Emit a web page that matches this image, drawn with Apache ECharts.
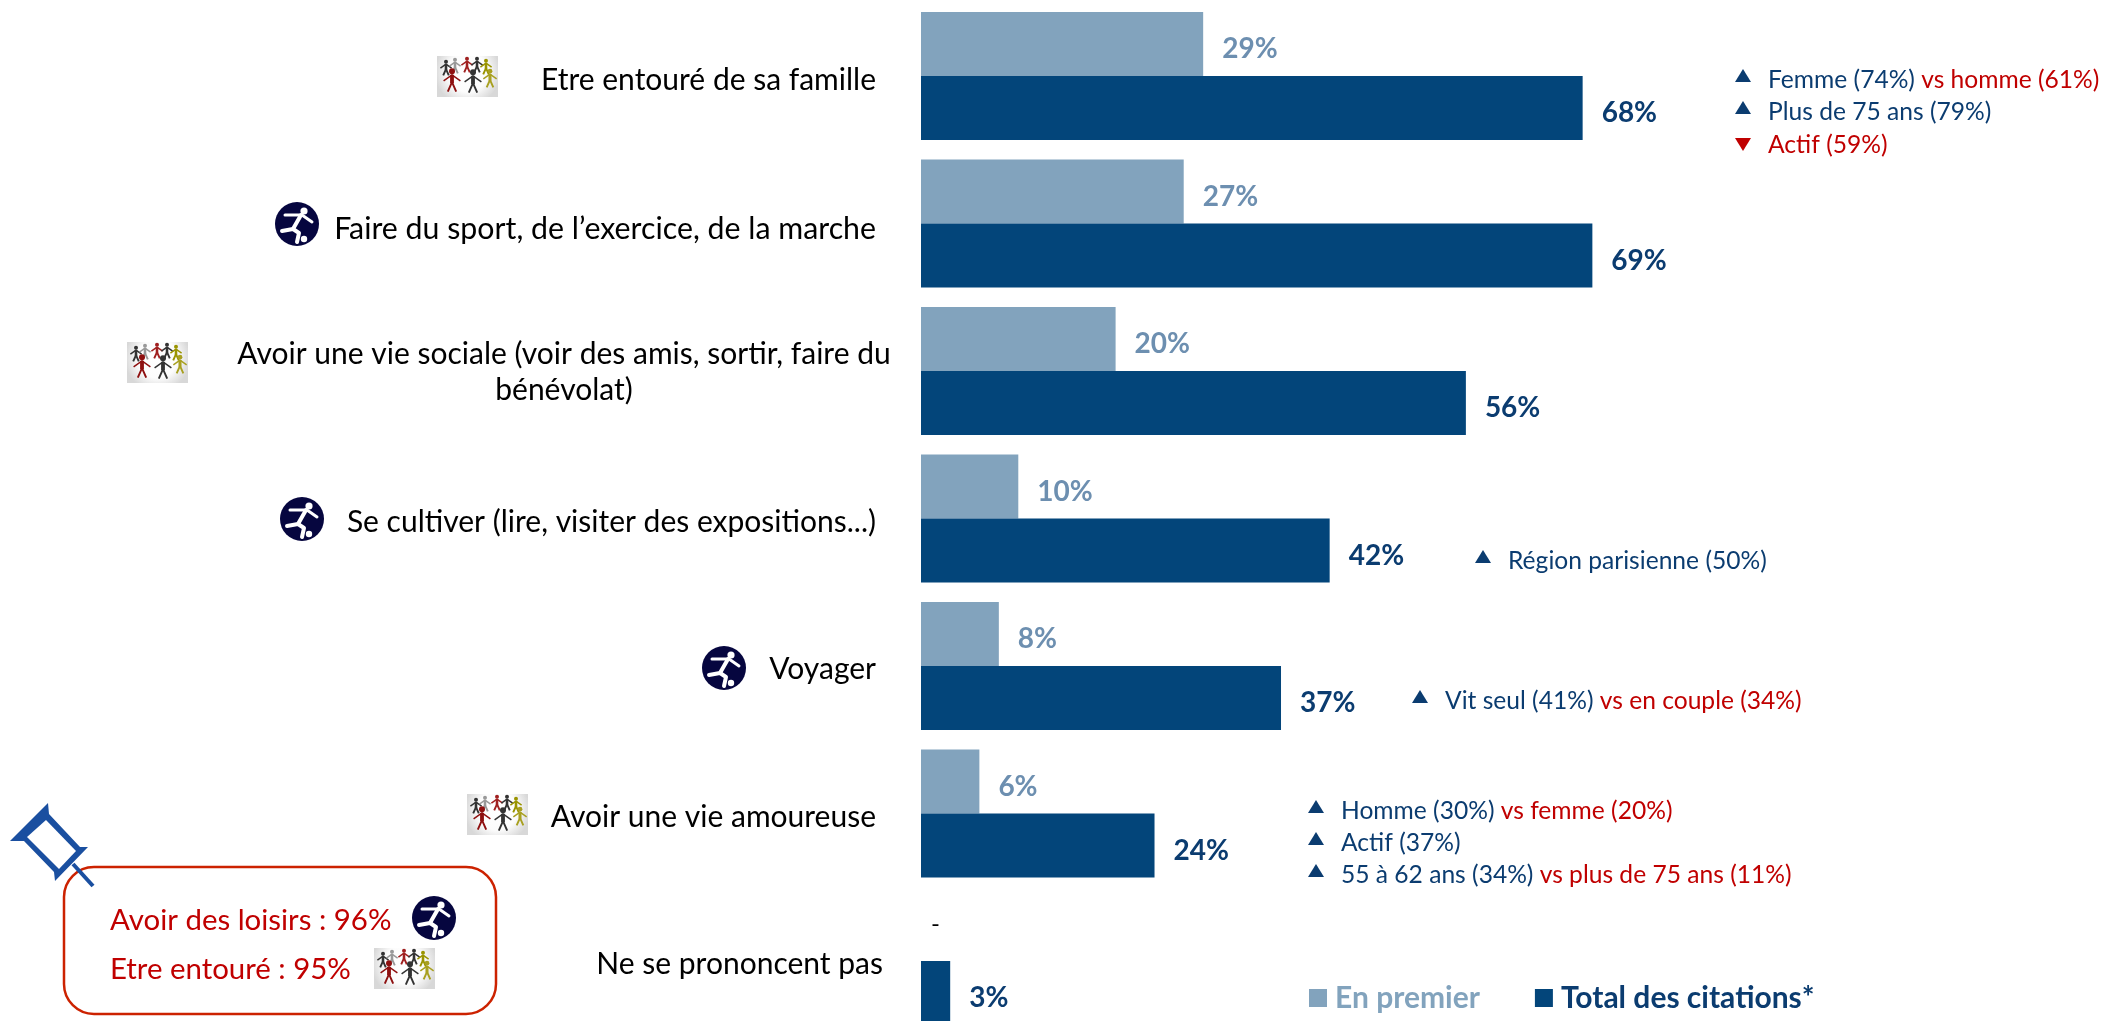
<!DOCTYPE html>
<html>
<head>
<meta charset="utf-8">
<style>
  html, body { margin: 0; padding: 0; background: #fff; overflow: hidden; height: 1021px; }
  #chart { width: 2107px; height: 1040px; }
</style>
</head>
<body>
<div id="chart"></div>
<script src="https://cdn.jsdelivr.net/npm/echarts@6/dist/echarts.min.js"></script>
<script>
var categories = [
  'Etre entouré de sa famille',
  'Faire du sport, de l’exercice, de la marche',
  'Avoir une vie sociale (voir des amis, sortir, faire du\nbénévolat)',
  'Se cultiver (lire, visiter des expositions...)',
  'Voyager',
  'Avoir une vie amoureuse',
  'Ne se prononcent pas'
];
var enPremier = [29, 27, 20, 10, 8, 6, 0];
var totalCitations = [68, 69, 56, 42, 37, 24, 3];
var seriesNames = ['En premier', 'Total des citations*'];
var boxLines = ['Avoir des loisirs : 96%', 'Etre entouré : 95%'];

var LIGHT = '#82A3BD';
var LIGHT_TEXT = '#6D8FB0';
var DARK = '#03457A';
var DARK_TEXT = '#0B3C70';
var RED = '#C00000';
var FONT = 'Lato';

// annotations next to the bars: [x triangle, y text, up or down, blue part, red part]
var notes = [
  [1743, 80, 'up', 'Femme (74%) ', 'vs homme (61%)'],
  [1743, 112, 'up', 'Plus de 75 ans (79%)', ''],
  [1743, 145, 'down', '', 'Actif (59%)'],
  [1483, 561, 'up', 'Région parisienne (50%)', ''],
  [1420, 701, 'up', 'Vit seul (41%) ', 'vs en couple (34%)'],
  [1316, 811, 'up', 'Homme (30%) ', 'vs femme (20%)'],
  [1316, 843, 'up', 'Actif (37%)', ''],
  [1316, 875, 'up', '55 à 62 ans (34%) ', 'vs plus de 75 ans (11%)']
];

function noteGraphics() {
  var out = [];
  notes.forEach(function (n) {
    var x = n[0], y = n[1], up = n[2] === 'up';
    var pts = up
      ? [[x - 8, y + 2], [x + 8, y + 2], [x, y - 11]]
      : [[x - 8, y - 7], [x + 8, y - 7], [x, y + 6]];
    out.push({ type: 'polygon', shape: { points: pts }, style: { fill: up ? DARK_TEXT : RED } });
    out.push({
      type: 'text', x: x + 25, y: y,
      style: {
        text: (n[3] ? '{b|' + n[3] + '}' : '') + (n[4] ? '{r|' + n[4] + '}' : ''),
        verticalAlign: 'middle',
        rich: {
          b: { fill: DARK_TEXT, font: '24.6px ' + FONT },
          r: { fill: RED, font: '24.6px ' + FONT }
        }
      }
    });
  });
  return out;
}

// little round "runner" picto
function runner(cx, cy) {
  var ink = '#fff';
  var line = function (pts, w) {
    return { type: 'polyline', x: cx, y: cy, shape: { points: pts },
      style: { stroke: ink, lineWidth: w || 3, fill: null, lineCap: 'round', lineJoin: 'round' } };
  };
  return [
    { type: 'circle', shape: { cx: cx, cy: cy, r: 22 }, style: { fill: '#06063F' } },
    { type: 'circle', shape: { cx: cx + 7, cy: cy - 13, r: 3.6 }, style: { fill: ink } },
    line([[-12, -9], [5, -9], [15, -2]]),
    line([[4, -9], [-4, 5], [-15, 7]], 4),
    line([[-4, 5], [2, 9], [0, 18]], 4),
    { type: 'circle', shape: { cx: cx + 7, cy: cy + 15, r: 3.2 }, style: { fill: ink } }
  ];
}

// ring of paper people picto, x/y is the top left corner
function people(x, y) {
  var out = [{
    type: 'rect', shape: { x: x, y: y + 1, width: 61, height: 41 },
    style: {
      fill: {
        type: 'radial', x: 0.5, y: 0.4, r: 0.8,
        colorStops: [{ offset: 0, color: '#fff' }, { offset: 0.6, color: '#fcfcfc' }, { offset: 1, color: '#d8d8d8' }]
      }
    }
  }];
  var figs = [
    [9, 10, '#333', 0.8], [18, 8, '#999', 0.8], [30, 7, '#A02020', 0.8], [40, 7, '#333', 0.8],
    [49, 9, '#9A9400', 0.8], [53, 20, '#A8A020', 0.95], [15, 21, '#8E1010', 1.2], [36, 22, '#333', 1.2]
  ];
  figs.forEach(function (f) {
    var fx = x + f[0], fy = y + f[1], k = f[3];
    out.push({ type: 'circle', shape: { cx: fx, cy: fy - 4 * k, r: 2.5 * k }, style: { fill: f[2] } });
    out.push({
      type: 'polyline', x: fx, y: fy,
      shape: { points: [[-7 * k, 4 * k], [0, -1 * k], [7 * k, 4 * k]] },
      style: { stroke: f[2], lineWidth: 1.5, fill: null }
    });
    out.push({
      type: 'polyline', x: fx, y: fy,
      shape: { points: [[-3.5 * k, 13 * k], [0, 5 * k], [3.5 * k, 13 * k]] },
      style: { stroke: f[2], lineWidth: 1.9, fill: null }
    });
    out.push({
      type: 'line', x: fx, y: fy,
      shape: { x1: 0, y1: -1 * k, x2: 0, y2: 6 * k },
      style: { stroke: f[2], lineWidth: 3.2 * k }
    });
  });
  return out;
}

function pin() {
  var blue = '#1A4FA0';
  return [
    { type: 'polyline', shape: { points: [[73, 864], [93, 886]] }, style: { stroke: blue, lineWidth: 4, fill: null } },
    {
      type: 'polygon',
      shape: { points: [[48, 803], [49, 814], [80, 847], [88, 847], [55, 881], [54, 872], [24, 841], [10, 841]] },
      style: { fill: blue }
    },
    { type: 'polygon', shape: { points: [[46, 820], [76, 851], [59, 869], [27, 837]] }, style: { fill: '#fff' } }
  ];
}

var boxGraphics = [
  {
    type: 'rect', shape: { x: 64, y: 867, width: 432, height: 147, r: 30 },
    style: { fill: '#fff', stroke: '#CC2200', lineWidth: 2.5 }
  },
  { type: 'text', x: 110, y: 921, style: { text: boxLines[0], fill: RED, font: '29.4px ' + FONT, verticalAlign: 'middle' } },
  { type: 'text', x: 110, y: 970, style: { text: boxLines[1], fill: RED, font: '29.4px ' + FONT, verticalAlign: 'middle' } }
];

var graphics = []
  .concat(boxGraphics)
  .concat(pin())
  .concat(people(437, 55), people(127, 341), people(467, 793), people(374, 947))
  .concat(runner(297, 224), runner(302, 519), runner(724, 668), runner(434, 918))
  .concat(noteGraphics());

// right edge of the label, most sit a bit left of the wrapped one
var labelStyle = ['p15', 'q15', '', 'p15', 'n15', 'p15', 'n8'];

var chart = echarts.init(document.getElementById('chart'), null, { renderer: 'canvas' });
var option = {
  animation: false,
  backgroundColor: '#fff',
  textStyle: { fontFamily: FONT },
  grid: { left: 921, top: 2.25, width: 973, height: 1032.5 },
  legend: {
    left: 1309, top: 983,
    padding: 0,
    itemWidth: 18, itemHeight: 18, itemGap: 55,
    selectedMode: false,
    icon: 'rect',
    data: [
      { name: seriesNames[0], textStyle: { color: LIGHT, fontWeight: 'bold', fontSize: 30, fontFamily: FONT, padding: [0, 0, 0, 3] } },
      { name: seriesNames[1], textStyle: { color: DARK_TEXT, fontWeight: 'bold', fontSize: 30, fontFamily: FONT, padding: [0, 0, 0, 3] } }
    ]
  },
  xAxis: { type: 'value', min: 0, max: 100, show: false },
  yAxis: {
    type: 'category',
    inverse: true,
    data: categories,
    axisLine: { show: false },
    axisTick: { show: false },
    axisLabel: {
      margin: 30,
      interval: 0,
      formatter: function (value, i) {
        if (value.indexOf('\n') > -1) {
          var parts = value.split('\n');
          return '{w|' + parts[0] + '}\n{c|' + parts[1] + '}';
        }
        return '{' + labelStyle[i] + '|' + value + '}';
      },
      rich: {
        p15: { color: '#000', fontSize: 30, fontFamily: FONT, padding: [8, 15, 0, 0] },
        q15: { color: '#000', fontSize: 30.3, fontFamily: FONT, padding: [11, 15, 0, 0] },
        n15: { color: '#000', fontSize: 30, fontFamily: FONT, padding: [6, 15, 0, 0] },
        n8: { color: '#000', fontSize: 30, fontFamily: FONT, padding: [6, 8, 0, 0] },
        w: { color: '#000', fontSize: 30, fontFamily: FONT, lineHeight: 38, width: 654, align: 'center', padding: [5, 0, 0, 0] },
        c: { color: '#000', fontSize: 30, fontFamily: FONT, lineHeight: 38, width: 654, align: 'center' }
      }
    }
  },
  series: [
    {
      name: seriesNames[0],
      type: 'bar',
      barGap: 0,
      barCategoryGap: '13.2%',
      itemStyle: { color: LIGHT },
      data: enPremier.map(function (v) {
        // no answer: a lone dash tight against the axis
        return v ? v : { value: v, label: { offset: [-9, -5] } };
      }),
      label: {
        show: true, position: 'right', distance: 19, offset: [0, 5],
        fontSize: 28, fontWeight: 'bold', fontFamily: FONT,
        color: LIGHT_TEXT,
        formatter: function (p) { return p.value ? p.value + '%' : '{dash|-}'; },
        rich: { dash: { color: '#000', fontSize: 24, fontWeight: 'normal', fontFamily: FONT } }
      }
    },
    {
      name: seriesNames[1],
      type: 'bar',
      itemStyle: { color: DARK },
      data: totalCitations,
      label: {
        show: true, position: 'right', distance: 19, offset: [0, 5],
        fontSize: 28, fontWeight: 'bold', fontFamily: FONT,
        color: DARK_TEXT,
        formatter: '{c}%'
      }
    }
  ],
  graphic: { elements: graphics }
};
chart.setOption(option);
</script>
</body>
</html>
